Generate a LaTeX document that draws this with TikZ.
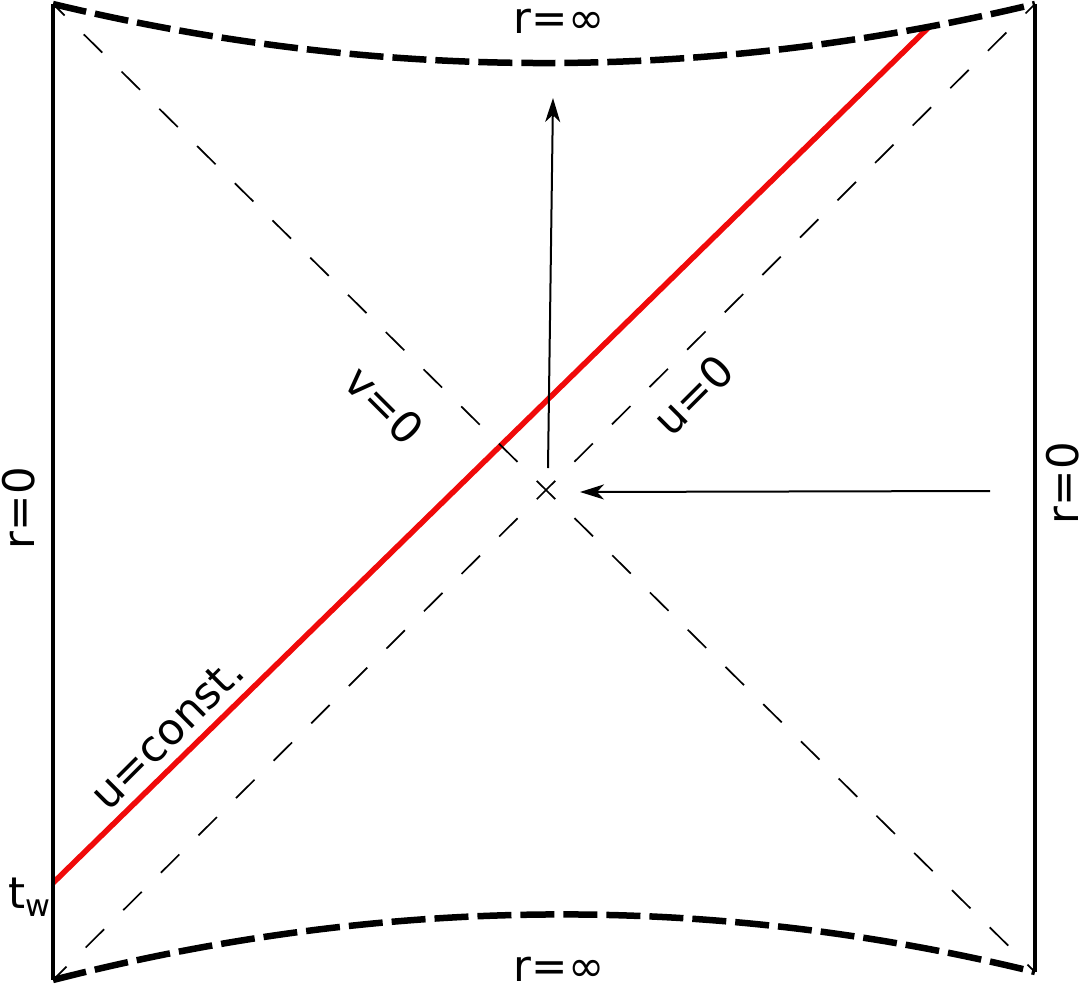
\documentclass[tikz,border=0pt]{standalone}
\usepackage{fontspec}
\setmainfont{DejaVu Sans}
\usetikzlibrary{arrows.meta}
\begin{document}
\begin{tikzpicture}[x=1pt,y=-1pt,
  edge/.style={line width=3.3pt},
  infty/.style={line width=6.5pt,dash pattern=on 34pt off 9pt},
  horizon/.style={line width=1.7pt,dash pattern=on 26pt off 27pt,dash phase=13pt},
  worldline/.style={line width=5.5pt,draw={rgb,255:red,240;green,10;blue,10}},
  arr/.style={line width=2pt,-{Stealth[length=24pt,width=15pt,inset=7pt]}},
  lbl/.style={font=\fontsize{43.5}{50}\selectfont,inner sep=0pt}]
\useasboundingbox (0,0) rectangle (1080,989);
% corners
\coordinate (TL) at (53,4);
\coordinate (TR) at (1035,4);
\coordinate (BL) at (53,980);
\coordinate (BR) at (1035,972);
\coordinate (C) at (546,490);
\coordinate (TW) at (53,883);
\coordinate (RE) at (930,26);
% red line
\draw[worldline] (TW) -- (RE);
% boundaries
\draw[edge] (TL) -- (BL);
\draw[edge] (TR) -- (BR);
\draw[infty] (TL) .. controls (380,82.7) and (708,82.7) .. (TR);
\draw[infty] (BL) .. controls (380,896) and (708,892) .. (BR);
% horizons
\draw[horizon] (C) -- (TL);
\draw[horizon] (C) -- (BR);
\draw[horizon] (C) -- (TR);
\draw[horizon] (C) -- (BL);
% arrows
\coordinate (A1s) at (548,468);
\coordinate (A1e) at (553,98);
\coordinate (A2s) at (990,491);
\coordinate (A2e) at (580,492);
\draw[arr] (A1s) -- (A1e);
\draw[arr] (A2s) -- (A2e);
% labels
\node[lbl] (rinfT) at (559,21) {r=∞};
\node[lbl] (rinfB) at (559,969) {r=∞};
\node[lbl,rotate=90] (r0L) at (19,508) {r=0};
\node[lbl,rotate=90] (r0R) at (1063,483) {r=0};
\node[lbl,rotate=-45] (v0) at (384,405) {v=0};
\node[lbl,rotate=45] (u0) at (693,395) {u=0};
\node[lbl,rotate=45] (uc) at (167,733) {u=const.};
\node[lbl,anchor=east] (tw) at (51,897) {t\textsubscript{w}};
\end{tikzpicture}
\end{document}
